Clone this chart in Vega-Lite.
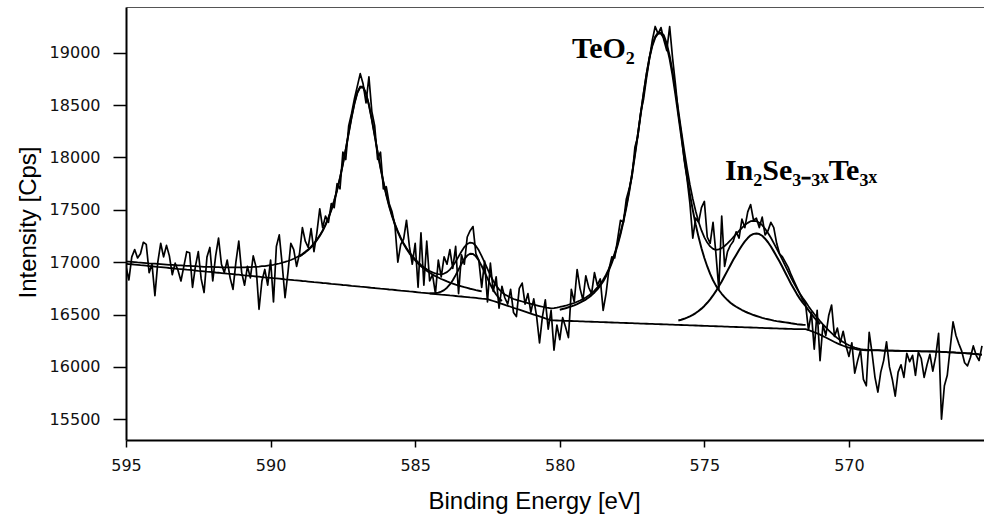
{
  "$schema": "https://vega.github.io/schema/vega-lite/v6.json",
  "width": 858,
  "height": 433,
  "autosize": {"type": "none"},
  "padding": {"left": 126, "top": 7, "right": 0, "bottom": 79},
  "background": "white",
  "config": {
    "view": {"stroke": null},
    "axis": {
      "grid": false,
      "domainColor": "#000",
      "tickColor": "#000",
      "labelColor": "#111",
      "labelFont": "DejaVu Sans",
      "labelFontSize": 16,
      "labelFlush": false,
      "labelOverlap": false,
      "titleFont": "Liberation Sans",
      "titleFontSize": 24,
      "titleFontWeight": "normal",
      "titleColor": "#000"
    }
  },
  "datasets": {
    "xps": [
      {"E":595.0,"counts":16960,"fit":17006,"bg":16985},
      {"E":594.9,"counts":16830,"fit":17004,"bg":16982},
      {"E":594.8,"counts":17050,"fit":17002,"bg":16980},
      {"E":594.7,"counts":17120,"fit":17000,"bg":16977},
      {"E":594.6,"counts":17040,"fit":16997,"bg":16974},
      {"E":594.5,"counts":17080,"fit":16995,"bg":16971},
      {"E":594.4,"counts":17190,"fit":16993,"bg":16969},
      {"E":594.3,"counts":17170,"fit":16991,"bg":16966},
      {"E":594.2,"counts":16900,"fit":16988,"bg":16963},
      {"E":594.1,"counts":16980,"fit":16987,"bg":16961},
      {"E":594.0,"counts":16680,"fit":16985,"bg":16958},
      {"E":593.9,"counts":17000,"fit":16983,"bg":16955},
      {"E":593.8,"counts":17180,"fit":16981,"bg":16953},
      {"E":593.7,"counts":17050,"fit":16979,"bg":16950},
      {"E":593.6,"counts":17160,"fit":16977,"bg":16947},
      {"E":593.5,"counts":17060,"fit":16975,"bg":16944},
      {"E":593.4,"counts":16880,"fit":16974,"bg":16942},
      {"E":593.3,"counts":16990,"fit":16972,"bg":16939},
      {"E":593.2,"counts":16920,"fit":16970,"bg":16936},
      {"E":593.1,"counts":16820,"fit":16969,"bg":16934},
      {"E":593.0,"counts":16960,"fit":16967,"bg":16931},
      {"E":592.9,"counts":17100,"fit":16965,"bg":16928},
      {"E":592.8,"counts":17090,"fit":16964,"bg":16926},
      {"E":592.7,"counts":16760,"fit":16962,"bg":16923},
      {"E":592.6,"counts":16960,"fit":16961,"bg":16920},
      {"E":592.5,"counts":17100,"fit":16959,"bg":16917},
      {"E":592.4,"counts":16840,"fit":16958,"bg":16915},
      {"E":592.3,"counts":16710,"fit":16956,"bg":16912},
      {"E":592.2,"counts":17050,"fit":16955,"bg":16909},
      {"E":592.1,"counts":17140,"fit":16955,"bg":16907},
      {"E":592.0,"counts":16820,"fit":16954,"bg":16904},
      {"E":591.9,"counts":17060,"fit":16953,"bg":16901},
      {"E":591.8,"counts":17230,"fit":16952,"bg":16899},
      {"E":591.7,"counts":16980,"fit":16951,"bg":16896},
      {"E":591.6,"counts":16900,"fit":16950,"bg":16893},
      {"E":591.5,"counts":17020,"fit":16950,"bg":16890},
      {"E":591.4,"counts":16850,"fit":16950,"bg":16888},
      {"E":591.3,"counts":16740,"fit":16950,"bg":16885},
      {"E":591.2,"counts":17000,"fit":16950,"bg":16882},
      {"E":591.1,"counts":17200,"fit":16950,"bg":16880},
      {"E":591.0,"counts":16900,"fit":16950,"bg":16877},
      {"E":590.9,"counts":16780,"fit":16951,"bg":16874},
      {"E":590.8,"counts":16960,"fit":16952,"bg":16872},
      {"E":590.7,"counts":16850,"fit":16953,"bg":16869},
      {"E":590.6,"counts":17060,"fit":16954,"bg":16866},
      {"E":590.5,"counts":16950,"fit":16956,"bg":16863},
      {"E":590.4,"counts":16550,"fit":16958,"bg":16861},
      {"E":590.3,"counts":16820,"fit":16961,"bg":16858},
      {"E":590.2,"counts":16930,"fit":16963,"bg":16855},
      {"E":590.1,"counts":16780,"fit":16967,"bg":16853},
      {"E":590.0,"counts":17020,"fit":16971,"bg":16850},
      {"E":589.9,"counts":16620,"fit":16975,"bg":16847},
      {"E":589.8,"counts":17150,"fit":16981,"bg":16845},
      {"E":589.7,"counts":17260,"fit":16987,"bg":16842},
      {"E":589.6,"counts":16980,"fit":16994,"bg":16839},
      {"E":589.5,"counts":16660,"fit":17002,"bg":16836},
      {"E":589.4,"counts":16900,"fit":17011,"bg":16834},
      {"E":589.3,"counts":17180,"fit":17021,"bg":16831},
      {"E":589.2,"counts":17120,"fit":17032,"bg":16828},
      {"E":589.1,"counts":16960,"fit":17046,"bg":16826},
      {"E":589.0,"counts":17080,"fit":17061,"bg":16823,"c1":17055},
      {"E":588.9,"counts":17330,"fit":17078,"bg":16820,"c1":17072},
      {"E":588.8,"counts":17200,"fit":17099,"bg":16818,"c1":17093},
      {"E":588.7,"counts":17140,"fit":17122,"bg":16815,"c1":17116},
      {"E":588.6,"counts":17320,"fit":17148,"bg":16812,"c1":17142},
      {"E":588.5,"counts":17100,"fit":17179,"bg":16809,"c1":17173},
      {"E":588.4,"counts":17280,"fit":17215,"bg":16807,"c1":17209},
      {"E":588.3,"counts":17510,"fit":17256,"bg":16804,"c1":17250},
      {"E":588.2,"counts":17330,"fit":17303,"bg":16801,"c1":17297},
      {"E":588.1,"counts":17440,"fit":17360,"bg":16799,"c1":17354},
      {"E":588.0,"counts":17380,"fit":17426,"bg":16796,"c1":17419},
      {"E":587.9,"counts":17560,"fit":17502,"bg":16793,"c1":17495},
      {"E":587.8,"counts":17520,"fit":17590,"bg":16791,"c1":17583},
      {"E":587.7,"counts":17750,"fit":17692,"bg":16788,"c1":17685},
      {"E":587.6,"counts":17700,"fit":17809,"bg":16785,"c1":17802},
      {"E":587.5,"counts":18050,"fit":17939,"bg":16782,"c1":17932},
      {"E":587.4,"counts":17980,"fit":18084,"bg":16780,"c1":18077},
      {"E":587.3,"counts":18300,"fit":18235,"bg":16777,"c1":18228},
      {"E":587.2,"counts":18420,"fit":18384,"bg":16774,"c1":18377},
      {"E":587.1,"counts":18560,"fit":18519,"bg":16772,"c1":18512},
      {"E":587.0,"counts":18680,"fit":18622,"bg":16769,"c1":18614},
      {"E":586.9,"counts":18800,"fit":18677,"bg":16766,"c1":18669},
      {"E":586.8,"counts":18700,"fit":18675,"bg":16764,"c1":18667},
      {"E":586.7,"counts":18520,"fit":18614,"bg":16761,"c1":18606},
      {"E":586.6,"counts":18770,"fit":18506,"bg":16758,"c1":18498},
      {"E":586.5,"counts":18440,"fit":18366,"bg":16755,"c1":18358},
      {"E":586.4,"counts":18300,"fit":18212,"bg":16753,"c1":18204},
      {"E":586.3,"counts":17980,"fit":18056,"bg":16750,"c1":18047},
      {"E":586.2,"counts":18050,"fit":17906,"bg":16747,"c1":17897},
      {"E":586.1,"counts":17700,"fit":17771,"bg":16745,"c1":17762},
      {"E":586.0,"counts":17720,"fit":17648,"bg":16742,"c1":17639},
      {"E":585.9,"counts":17560,"fit":17540,"bg":16739,"c1":17531},
      {"E":585.8,"counts":17480,"fit":17448,"bg":16737,"c1":17439},
      {"E":585.7,"counts":17350,"fit":17366,"bg":16734,"c1":17357},
      {"E":585.6,"counts":17000,"fit":17296,"bg":16731,"c1":17286},
      {"E":585.5,"counts":17170,"fit":17234,"bg":16728,"c1":17224},
      {"E":585.4,"counts":17220,"fit":17182,"bg":16726,"c1":17172},
      {"E":585.3,"counts":17400,"fit":17135,"bg":16723,"c1":17125},
      {"E":585.2,"counts":17150,"fit":17095,"bg":16720,"c1":17084},
      {"E":585.1,"counts":16980,"fit":17060,"bg":16718,"c1":17048},
      {"E":585.0,"counts":17180,"fit":17028,"bg":16715,"c1":17016},
      {"E":584.9,"counts":16760,"fit":16999,"bg":16712,"c1":16987},
      {"E":584.8,"counts":17280,"fit":16974,"bg":16709,"c1":16961},
      {"E":584.7,"counts":16780,"fit":16952,"bg":16707,"c1":16939},
      {"E":584.6,"counts":17200,"fit":16932,"bg":16704,"c1":16918},
      {"E":584.5,"counts":16820,"fit":16914,"bg":16701,"c1":16899,"c2":16701},
      {"E":584.4,"counts":16880,"fit":16902,"bg":16698,"c1":16882,"c2":16703},
      {"E":584.3,"counts":16700,"fit":16892,"bg":16696,"c1":16867,"c2":16705},
      {"E":584.2,"counts":17020,"fit":16885,"bg":16693,"c1":16853,"c2":16709},
      {"E":584.1,"counts":16860,"fit":16884,"bg":16690,"c1":16839,"c2":16718},
      {"E":584.0,"counts":17050,"fit":16891,"bg":16688,"c1":16828,"c2":16733},
      {"E":583.9,"counts":16980,"fit":16905,"bg":16685,"c1":16816,"c2":16756},
      {"E":583.8,"counts":17120,"fit":16929,"bg":16682,"c1":16805,"c2":16787},
      {"E":583.7,"counts":16940,"fit":16964,"bg":16680,"c1":16796,"c2":16828},
      {"E":583.6,"counts":17150,"fit":17005,"bg":16677,"c1":16786,"c2":16876},
      {"E":583.5,"counts":16700,"fit":17053,"bg":16674,"c1":16777,"c2":16929},
      {"E":583.4,"counts":17070,"fit":17102,"bg":16672,"c1":16769,"c2":16983},
      {"E":583.3,"counts":16980,"fit":17144,"bg":16669,"c1":16761,"c2":17029},
      {"E":583.2,"counts":17240,"fit":17174,"bg":16666,"c1":16754,"c2":17063},
      {"E":583.1,"counts":17300,"fit":17187,"bg":16663,"c1":16746,"c2":17080},
      {"E":583.0,"counts":17340,"fit":17182,"bg":16661,"c1":16740,"c2":17078},
      {"E":582.9,"counts":17080,"fit":17155,"bg":16658,"c1":16733,"c2":17055},
      {"E":582.8,"counts":17020,"fit":17113,"bg":16655,"c1":16727,"c2":17015},
      {"E":582.7,"counts":16760,"fit":17058,"bg":16652,"c1":16720,"c2":16963},
      {"E":582.6,"counts":17010,"fit":16998,"bg":16650,"c2":16905},
      {"E":582.5,"counts":16620,"fit":16936,"bg":16647,"c2":16846},
      {"E":582.4,"counts":16990,"fit":16875,"bg":16638,"c2":16786},
      {"E":582.3,"counts":16720,"fit":16821,"bg":16629,"c2":16734},
      {"E":582.2,"counts":16860,"fit":16777,"bg":16620,"c2":16691},
      {"E":582.1,"counts":16560,"fit":16740,"bg":16610,"c2":16655},
      {"E":582.0,"counts":16770,"fit":16713,"bg":16601,"c2":16629},
      {"E":581.9,"counts":16660,"fit":16691,"bg":16592},
      {"E":581.8,"counts":16600,"fit":16676,"bg":16583},
      {"E":581.7,"counts":16740,"fit":16663,"bg":16574},
      {"E":581.6,"counts":16520,"fit":16648,"bg":16564},
      {"E":581.5,"counts":16480,"fit":16640,"bg":16555},
      {"E":581.4,"counts":16750,"fit":16632,"bg":16546},
      {"E":581.3,"counts":16800,"fit":16624,"bg":16537},
      {"E":581.2,"counts":16600,"fit":16616,"bg":16528},
      {"E":581.1,"counts":16700,"fit":16609,"bg":16519},
      {"E":581.0,"counts":16520,"fit":16602,"bg":16509},
      {"E":580.9,"counts":16650,"fit":16595,"bg":16500},
      {"E":580.8,"counts":16480,"fit":16588,"bg":16491},
      {"E":580.7,"counts":16230,"fit":16581,"bg":16482},
      {"E":580.6,"counts":16480,"fit":16574,"bg":16473},
      {"E":580.5,"counts":16640,"fit":16567,"bg":16463},
      {"E":580.4,"counts":16360,"fit":16563,"bg":16454},
      {"E":580.3,"counts":16540,"fit":16558,"bg":16445},
      {"E":580.2,"counts":16160,"fit":16561,"bg":16444},
      {"E":580.1,"counts":16400,"fit":16565,"bg":16443},
      {"E":580.0,"counts":16260,"fit":16572,"bg":16442,"c3":16546},
      {"E":579.9,"counts":16470,"fit":16578,"bg":16441,"c3":16553},
      {"E":579.8,"counts":16380,"fit":16584,"bg":16440,"c3":16560},
      {"E":579.7,"counts":16280,"fit":16593,"bg":16439,"c3":16569},
      {"E":579.6,"counts":16740,"fit":16601,"bg":16438,"c3":16578},
      {"E":579.5,"counts":16620,"fit":16610,"bg":16437,"c3":16588},
      {"E":579.4,"counts":16930,"fit":16622,"bg":16436,"c3":16600},
      {"E":579.3,"counts":16750,"fit":16634,"bg":16435,"c3":16613},
      {"E":579.2,"counts":16640,"fit":16647,"bg":16434,"c3":16627},
      {"E":579.1,"counts":16870,"fit":16663,"bg":16433,"c3":16643},
      {"E":579.0,"counts":16760,"fit":16681,"bg":16432,"c3":16662},
      {"E":578.9,"counts":16700,"fit":16704,"bg":16431,"c3":16685},
      {"E":578.8,"counts":16900,"fit":16729,"bg":16430,"c3":16711},
      {"E":578.7,"counts":16780,"fit":16759,"bg":16429,"c3":16741},
      {"E":578.6,"counts":16840,"fit":16792,"bg":16428,"c3":16775},
      {"E":578.5,"counts":16540,"fit":16832,"bg":16427,"c3":16815},
      {"E":578.4,"counts":16700,"fit":16880,"bg":16426,"c3":16864},
      {"E":578.3,"counts":16930,"fit":16939,"bg":16425,"c3":16923},
      {"E":578.2,"counts":17050,"fit":17007,"bg":16424,"c3":16992},
      {"E":578.1,"counts":17040,"fit":17086,"bg":16423,"c3":17071},
      {"E":578.0,"counts":17220,"fit":17177,"bg":16422,"c3":17162},
      {"E":577.9,"counts":17400,"fit":17280,"bg":16421,"c3":17266},
      {"E":577.8,"counts":17380,"fit":17399,"bg":16420,"c3":17385},
      {"E":577.7,"counts":17600,"fit":17533,"bg":16419,"c3":17519},
      {"E":577.6,"counts":17700,"fit":17681,"bg":16418,"c3":17668},
      {"E":577.5,"counts":17820,"fit":17850,"bg":16417,"c3":17837},
      {"E":577.4,"counts":18100,"fit":18034,"bg":16416,"c3":18021},
      {"E":577.3,"counts":18200,"fit":18227,"bg":16415,"c3":18215},
      {"E":577.2,"counts":18430,"fit":18426,"bg":16414,"c3":18414},
      {"E":577.1,"counts":18560,"fit":18620,"bg":16413,"c3":18608},
      {"E":577.0,"counts":18760,"fit":18803,"bg":16412,"c3":18792},
      {"E":576.9,"counts":18940,"fit":18957,"bg":16411,"c3":18946},
      {"E":576.8,"counts":19120,"fit":19076,"bg":16410,"c3":19065},
      {"E":576.7,"counts":19250,"fit":19155,"bg":16409,"c3":19144},
      {"E":576.6,"counts":19180,"fit":19193,"bg":16408,"c3":19183},
      {"E":576.5,"counts":19240,"fit":19192,"bg":16407,"c3":19182},
      {"E":576.4,"counts":19120,"fit":19167,"bg":16406,"c3":19141},
      {"E":576.3,"counts":19020,"fit":19090,"bg":16405,"c3":19060},
      {"E":576.2,"counts":19250,"fit":18972,"bg":16404,"c3":18939},
      {"E":576.1,"counts":18950,"fit":18821,"bg":16403,"c3":18783},
      {"E":576.0,"counts":18700,"fit":18641,"bg":16402,"c3":18597},
      {"E":575.9,"counts":18420,"fit":18452,"bg":16401,"c3":18401,"c4":16443},
      {"E":575.8,"counts":18230,"fit":18259,"bg":16400,"c3":18200,"c4":16450},
      {"E":575.7,"counts":17980,"fit":18072,"bg":16399,"c3":18004,"c4":16459},
      {"E":575.6,"counts":17800,"fit":17898,"bg":16398,"c3":17818,"c4":16470},
      {"E":575.5,"counts":17560,"fit":17740,"bg":16397,"c3":17647,"c4":16482},
      {"E":575.4,"counts":17230,"fit":17604,"bg":16396,"c3":17496,"c4":16496},
      {"E":575.3,"counts":17420,"fit":17487,"bg":16395,"c3":17360,"c4":16514},
      {"E":575.2,"counts":17380,"fit":17386,"bg":16394,"c3":17239,"c4":16534},
      {"E":575.1,"counts":17520,"fit":17303,"bg":16393,"c3":17133,"c4":16556},
      {"E":575.0,"counts":17580,"fit":17237,"bg":16392,"c3":17040,"c4":16582},
      {"E":574.9,"counts":17240,"fit":17187,"bg":16391,"c3":16959,"c4":16612},
      {"E":574.8,"counts":17180,"fit":17150,"bg":16390,"c3":16888,"c4":16645},
      {"E":574.7,"counts":17380,"fit":17127,"bg":16389,"c3":16827,"c4":16682},
      {"E":574.6,"counts":17080,"fit":17117,"bg":16388,"c3":16776,"c4":16723},
      {"E":574.5,"counts":16740,"fit":17122,"bg":16387,"c3":16734,"c4":16769},
      {"E":574.4,"counts":17440,"fit":17134,"bg":16386,"c3":16698,"c4":16816},
      {"E":574.3,"counts":16960,"fit":17154,"bg":16385,"c3":16666,"c4":16867},
      {"E":574.2,"counts":17100,"fit":17179,"bg":16384,"c3":16638,"c4":16919},
      {"E":574.1,"counts":17160,"fit":17207,"bg":16383,"c3":16613,"c4":16971},
      {"E":574.0,"counts":17200,"fit":17238,"bg":16382,"c3":16592,"c4":17022},
      {"E":573.9,"counts":17290,"fit":17267,"bg":16381,"c3":16574,"c4":17069},
      {"E":573.8,"counts":17230,"fit":17298,"bg":16380,"c3":16558,"c4":17115},
      {"E":573.7,"counts":17410,"fit":17328,"bg":16379,"c3":16543,"c4":17159},
      {"E":573.6,"counts":17330,"fit":17354,"bg":16378,"c3":16529,"c4":17198},
      {"E":573.5,"counts":17480,"fit":17375,"bg":16377,"c3":16517,"c4":17230},
      {"E":573.4,"counts":17550,"fit":17391,"bg":16376,"c3":16506,"c4":17256},
      {"E":573.3,"counts":17400,"fit":17395,"bg":16375,"c3":16495,"c4":17270},
      {"E":573.2,"counts":17420,"fit":17391,"bg":16374,"c3":16486,"c4":17274},
      {"E":573.1,"counts":17330,"fit":17377,"bg":16373,"c3":16477,"c4":17268},
      {"E":573.0,"counts":17430,"fit":17353,"bg":16372,"c3":16468,"c4":17252},
      {"E":572.9,"counts":17260,"fit":17318,"bg":16371,"c3":16461,"c4":17224},
      {"E":572.8,"counts":17300,"fit":17279,"bg":16370,"c3":16455,"c4":17190},
      {"E":572.7,"counts":17380,"fit":17233,"bg":16369,"c3":16449,"c4":17149},
      {"E":572.6,"counts":17330,"fit":17181,"bg":16368,"c3":16442,"c4":17103},
      {"E":572.5,"counts":17180,"fit":17129,"bg":16367,"c3":16437,"c4":17055},
      {"E":572.4,"counts":17080,"fit":17077,"bg":16366,"c3":16433,"c4":17006},
      {"E":572.3,"counts":17050,"fit":17021,"bg":16365,"c3":16429,"c4":16953},
      {"E":572.2,"counts":17000,"fit":16964,"bg":16364,"c3":16425,"c4":16899},
      {"E":572.1,"counts":16950,"fit":16907,"bg":16363,"c3":16421,"c4":16845},
      {"E":572.0,"counts":16880,"fit":16850,"bg":16362,"c3":16416,"c4":16792},
      {"E":571.9,"counts":16820,"fit":16798,"bg":16361,"c3":16412,"c4":16743},
      {"E":571.8,"counts":16760,"fit":16747,"bg":16360,"c3":16408,"c4":16695},
      {"E":571.7,"counts":16700,"fit":16701,"bg":16360,"c3":16405,"c4":16652},
      {"E":571.6,"counts":16640,"fit":16660,"bg":16360,"c3":16402,"c4":16613},
      {"E":571.5,"counts":16600,"fit":16622,"bg":16360,"c3":16401,"c4":16581},
      {"E":571.4,"counts":16350,"fit":16580,"bg":16352,"c4":16542},
      {"E":571.3,"counts":16520,"fit":16541,"bg":16342,"c4":16505},
      {"E":571.2,"counts":16170,"fit":16505,"bg":16331,"c4":16471},
      {"E":571.1,"counts":16540,"fit":16471,"bg":16320,"c4":16439},
      {"E":571.0,"counts":16060,"fit":16437,"bg":16308,"c4":16408},
      {"E":570.9,"counts":16400,"fit":16406,"bg":16294},
      {"E":570.8,"counts":16300,"fit":16377,"bg":16280},
      {"E":570.7,"counts":16490,"fit":16348,"bg":16266},
      {"E":570.6,"counts":16590,"fit":16322,"bg":16252},
      {"E":570.5,"counts":16290,"fit":16297,"bg":16238},
      {"E":570.4,"counts":16370,"fit":16275,"bg":16225},
      {"E":570.3,"counts":16230,"fit":16255,"bg":16213},
      {"E":570.2,"counts":16340,"fit":16237,"bg":16202},
      {"E":570.1,"counts":16200,"fit":16221,"bg":16192},
      {"E":570.0,"counts":16100,"fit":16207,"bg":16184},
      {"E":569.9,"counts":16230,"fit":16195,"bg":16177},
      {"E":569.8,"counts":15940,"fit":16185,"bg":16171},
      {"E":569.7,"counts":16060,"fit":16177,"bg":16166},
      {"E":569.6,"counts":16160,"fit":16170,"bg":16162},
      {"E":569.5,"counts":15880,"fit":16166,"bg":16160},
      {"E":569.4,"counts":15820,"fit":16164,"bg":16159},
      {"E":569.3,"counts":16330,"fit":16163,"bg":16159},
      {"E":569.2,"counts":16130,"fit":16161,"bg":16158},
      {"E":569.1,"counts":15900,"fit":16161,"bg":16158},
      {"E":569.0,"counts":15760,"fit":16159,"bg":16157},
      {"E":568.9,"counts":15950,"fit":16157,"bg":16157},
      {"E":568.8,"counts":16060,"fit":16156,"bg":16156},
      {"E":568.7,"counts":16240,"fit":16156,"bg":16156},
      {"E":568.6,"counts":16000,"fit":16155,"bg":16155},
      {"E":568.5,"counts":15880,"fit":16155,"bg":16155},
      {"E":568.4,"counts":15720,"fit":16154,"bg":16154},
      {"E":568.3,"counts":15950,"fit":16154,"bg":16154},
      {"E":568.2,"counts":16020,"fit":16153,"bg":16153},
      {"E":568.1,"counts":15900,"fit":16153,"bg":16153},
      {"E":568.0,"counts":16130,"fit":16152,"bg":16152},
      {"E":567.9,"counts":16050,"fit":16151,"bg":16151},
      {"E":567.8,"counts":16110,"fit":16151,"bg":16151},
      {"E":567.7,"counts":15920,"fit":16150,"bg":16150},
      {"E":567.6,"counts":16140,"fit":16150,"bg":16150},
      {"E":567.5,"counts":16080,"fit":16149,"bg":16149},
      {"E":567.4,"counts":15900,"fit":16148,"bg":16148},
      {"E":567.3,"counts":16020,"fit":16148,"bg":16148},
      {"E":567.2,"counts":16120,"fit":16147,"bg":16147},
      {"E":567.1,"counts":15960,"fit":16147,"bg":16147},
      {"E":567.0,"counts":16100,"fit":16146,"bg":16146},
      {"E":566.9,"counts":16320,"fit":16145,"bg":16145},
      {"E":566.8,"counts":15500,"fit":16143,"bg":16143},
      {"E":566.7,"counts":15820,"fit":16142,"bg":16142},
      {"E":566.6,"counts":15920,"fit":16140,"bg":16140},
      {"E":566.5,"counts":16180,"fit":16139,"bg":16139},
      {"E":566.4,"counts":16430,"fit":16138,"bg":16138},
      {"E":566.3,"counts":16300,"fit":16136,"bg":16136},
      {"E":566.2,"counts":16220,"fit":16135,"bg":16135},
      {"E":566.1,"counts":16150,"fit":16133,"bg":16133},
      {"E":566.0,"counts":16040,"fit":16132,"bg":16132},
      {"E":565.9,"counts":16010,"fit":16130,"bg":16130},
      {"E":565.8,"counts":16090,"fit":16128,"bg":16128},
      {"E":565.7,"counts":16200,"fit":16125,"bg":16125},
      {"E":565.6,"counts":16110,"fit":16123,"bg":16123},
      {"E":565.5,"counts":16060,"fit":16120,"bg":16120},
      {"E":565.4,"counts":16200,"fit":16118,"bg":16118}
    ],
    "labels": [
      {"text": "TeO₂", "E": 579.58, "I": 18945},
      {"text": "In₂Se₃₋₃ₓTe₃ₓ", "E": 574.29, "I": 17789}
    ]
  },
  "resolve": {"axis": {"x": "independent", "y": "independent"}},
  "layer": [
    {
      "data": {"name": "xps"},
      "transform": [
        {"fold": ["bg", "c1", "c2", "c3", "c4", "fit", "counts"], "as": ["series", "value"]}
      ],
      "mark": {"type": "line", "color": "#000", "strokeJoin": "round", "clip": true},
      "encoding": {
        "x": {
          "field": "E",
          "type": "quantitative",
          "scale": {"domain": [565.33, 595], "reverse": true, "nice": false, "zero": false},
          "axis": {
            "orient": "bottom",
            "values": [595, 590, 585, 580, 575, 570],
            "format": "d",
            "tickSize": 7,
            "tickWidth": 1.5,
            "domainWidth": 2,
            "labelPadding": 10,
            "title": "Binding Energy [eV]",
            "titleX": 408,
            "titleY": 68,
            "titleAlign": "center",
            "titleBaseline": "alphabetic"
          }
        },
        "y": {
          "field": "value",
          "type": "quantitative",
          "scale": {"domain": [15302, 19436], "nice": false, "zero": false},
          "axis": {
            "orient": "left",
            "values": [15500, 16000, 16500, 17000, 17500, 18000, 18500, 19000],
            "format": "d",
            "tickSize": 13,
            "tickWidth": 1.5,
            "domainWidth": 2,
            "labelPadding": 13,
            "title": "Intensity [Cps]",
            "titleAngle": 270,
            "titleX": -91,
            "titleY": 215,
            "titleAlign": "center",
            "titleBaseline": "alphabetic"
          }
        },
        "detail": {"field": "series", "type": "nominal"},
        "strokeWidth": {
          "field": "series",
          "type": "nominal",
          "scale": {
            "domain": ["counts", "fit", "bg", "c1", "c2", "c3", "c4"],
            "range": [1.7, 2, 1.3, 1, 1, 1, 1]
          },
          "legend": null
        }
      }
    },
    {
      "data": {"name": "labels"},
      "mark": {
        "type": "text",
        "font": "Liberation Serif",
        "fontWeight": "bold",
        "fontSize": 30,
        "align": "left",
        "baseline": "alphabetic",
        "color": "#000"
      },
      "encoding": {
        "x": {
          "field": "E",
          "type": "quantitative",
          "axis": {
            "orient": "top",
            "domain": true,
            "domainColor": "#555",
            "domainWidth": 1.2,
            "ticks": false,
            "labels": false,
            "title": null,
            "grid": false
          }
        },
        "y": {"field": "I", "type": "quantitative", "axis": null},
        "text": {"field": "text", "type": "nominal"}
      }
    }
  ]
}
